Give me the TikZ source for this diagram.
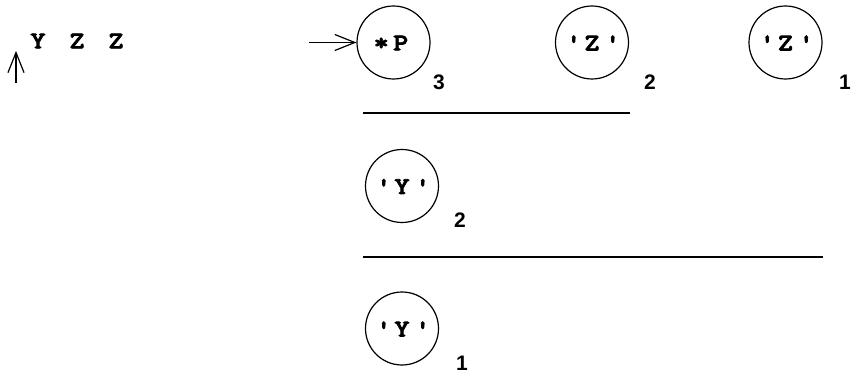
\documentclass[tikz,border=0pt]{standalone}
\usepackage{fontspec}
\newfontfamily\digitfont{Liberation Sans}
\newfontfamily\typew{lmmonolt10-bold.otf}[FakeBold=3,FakeStretch=1.2]
\usetikzlibrary{arrows.meta}
\newcommand\tw[1]{\makebox[19.5pt]{#1}}
\begin{document}
\begin{tikzpicture}[x=1pt,y=-1pt,
  every node/.style={inner sep=0pt},
  cell/.style={draw,circle,minimum size=73pt,line width=1.2pt},
  word/.style={font=\typew\fontsize{24}{24}\selectfont},
  idx/.style={font=\digitfont\bfseries\fontsize{21}{21}\selectfont},
  rule/.style={line width=1.3pt},
  ptr/.style={line width=1.2pt,-{Straight Barb[length=20pt,width=16pt,line width=1.2pt]}}]
\useasboundingbox (0,0) rectangle (851,379);
% left
\node[word] (ttl) at (77,41) {\tw{Y}\tw{}\tw{Z}\tw{}\tw{Z}};
\coordinate (u0) at (16,83);
\coordinate (u1) at (16,51);
\draw[ptr] (u0) -- (u1);
% top row
\node[cell] (p3) at (393.5,42.5) {};
\node[word] (p3t) at (391,43) {\tw{*}\tw{P}};
\node[cell] (z2) at (592,42.5) {};
\node[word] (z2t) at (592,43) {\tw{\textquotesingle}\tw{Z}\tw{\textquotesingle}};
\node[cell] (z1) at (785.5,42.5) {};
\node[word] (z1t) at (785.5,43) {\tw{\textquotesingle}\tw{Z}\tw{\textquotesingle}};
\node[idx] (l3) at (439,82.5) {3};
\node[idx] (l2a) at (650,82.5) {2};
\node[idx] (l1a) at (845,82.5) {1};
\coordinate (a0) at (309,42.5);
\draw[ptr] (a0) -- (p3.west);
% rules
\coordinate (r1a) at (363,113);
\coordinate (r1b) at (630,113);
\draw[rule] (r1a) -- (r1b);
\coordinate (r2a) at (363,257);
\coordinate (r2b) at (823,257);
\draw[rule] (r2a) -- (r2b);
% lower
\node[cell] (y2) at (402,186) {};
\node[word] (y2t) at (402,186.5) {\tw{\textquotesingle}\tw{Y}\tw{\textquotesingle}};
\node[idx] (l2b) at (460,220) {2};
\node[cell] (y1) at (402,328.5) {};
\node[word] (y1t) at (402,329) {\tw{\textquotesingle}\tw{Y}\tw{\textquotesingle}};
\node[idx] (l1b) at (462,363) {1};
\end{tikzpicture}
\end{document}
